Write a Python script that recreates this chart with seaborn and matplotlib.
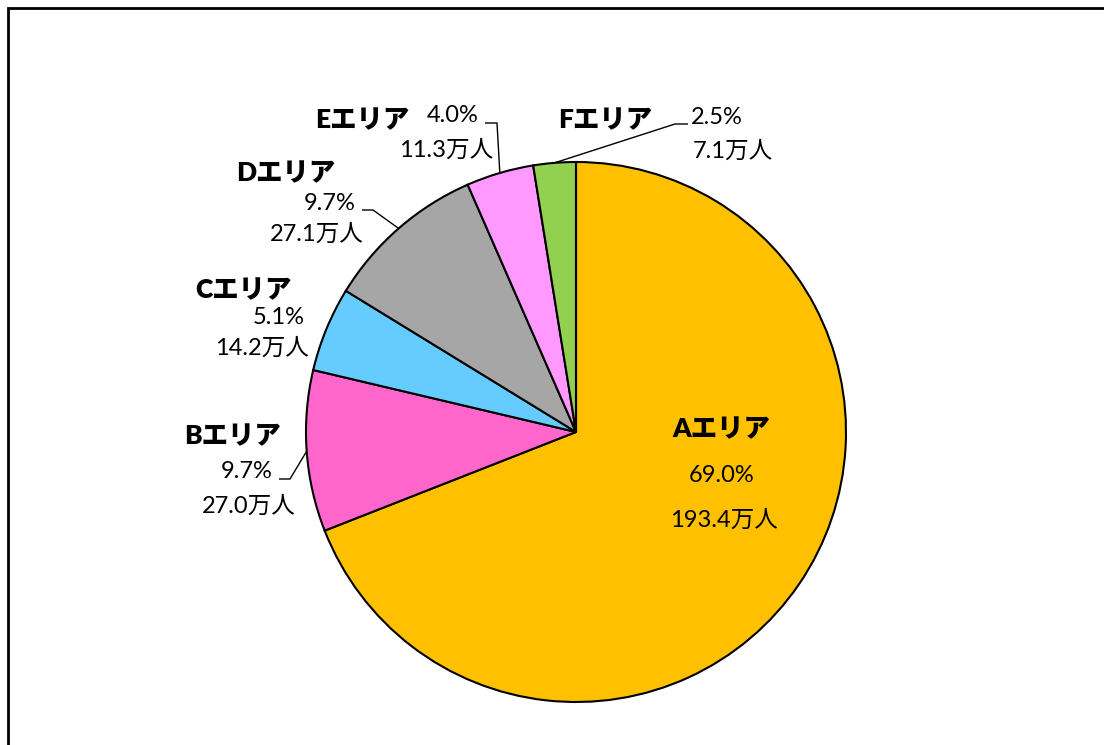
"""
Population share by area - pie chart
"""

import matplotlib
matplotlib.use('Agg')
import matplotlib.pyplot as plt
import numpy as np
import seaborn as sns

# data
areas = ['Aエリア', 'Bエリア', 'Cエリア', 'Dエリア', 'Eエリア', 'Fエリア']
population = [193.4, 27.0, 14.2, 27.1, 11.3, 7.1]  # 万人
share_labels = ['69.0%', '9.7%', '5.1%', '9.7%', '4.0%', '2.5%']
colors = ['#FFC000', '#FF66CC', '#66CCFF', '#A6A6A6', '#FF99FF', '#92D050']

# layout (image pixels, y measured from top)
W, H = 1104, 745
CENTER = (576, 432)
RADIUS = 270

# (name xy, share xy, population xy)
label_pos = [
    ((721, 429), (722, 475), (724, 520)),
    ((233, 436), (247, 472), (249, 506)),
    ((243, 290), (279, 318), (262, 348)),
    ((286, 173), (330, 203), (317, 234)),
    ((362, 120), (453, 115), (446, 150)),
    ((605, 120), (717, 118), (733, 151)),
]

# leader lines: (text end, elbow) -> wedge edge; None = no leader
leaders = [
    None,
    ((279, 479), (290, 479)),
    None,
    ((362, 210), (373, 210)),
    ((485, 123), (497, 123)),
    ((688, 124), (675, 124)),
]

NUM_FONT = ['Lato', 'Noto Sans CJK JP', 'DejaVu Sans']
NAME_FONT = ['Lato', 'Noto Sans CJK JP', 'DejaVu Sans']


def Y(y):
    """flip image y to axes y"""
    return H - y


def fmt_pop(v):
    return f'{v:.1f}万人'


sns.set_theme(style='white')
plt.rcParams['font.family'] = NUM_FONT

fig = plt.figure(figsize=(W / 100, H / 100), dpi=100)
ax = fig.add_axes([0, 0, 1, 1])

wedges, _ = ax.pie(
    population,
    colors=colors,
    startangle=90,
    counterclock=False,
    center=(CENTER[0], Y(CENTER[1])),
    radius=RADIUS,
    wedgeprops=dict(edgecolor='black', linewidth=1.5),
    frame=True,
)
ax.set_xlim(0, W)
ax.set_ylim(0, H)
ax.set_aspect('equal')
ax.axis('off')

for i, w in enumerate(wedges):
    (nx, ny), (sx, sy), (px, py) = label_pos[i]
    ax.text(nx, Y(ny), areas[i], ha='center', va='center',
            fontsize=19, fontweight='heavy', family=NAME_FONT, color='black')
    ax.text(sx, Y(sy), share_labels[i], ha='center', va='center',
            fontsize=17, family=NUM_FONT, color='black')
    ax.text(px, Y(py), fmt_pop(population[i]), ha='center', va='center',
            fontsize=17, family=NUM_FONT, color='black')

    if leaders[i] is not None:
        mid = np.deg2rad((w.theta1 + w.theta2) / 2)
        ex = CENTER[0] + RADIUS * np.cos(mid)
        ey = Y(CENTER[1]) + RADIUS * np.sin(mid)
        (tx, ty), (bx, by) = leaders[i]
        ax.plot([tx, bx, ex], [Y(ty), Y(by), ey], color='black', lw=1.0,
                solid_capstyle='butt', zorder=3)

# outer frame (only top and left edges are visible)
ax.plot([8, 8, W], [0, Y(8), Y(8)], color='black', lw=2.0,
        solid_joinstyle='miter', clip_on=False)

fig.savefig('out.png', dpi=100, facecolor='white')
